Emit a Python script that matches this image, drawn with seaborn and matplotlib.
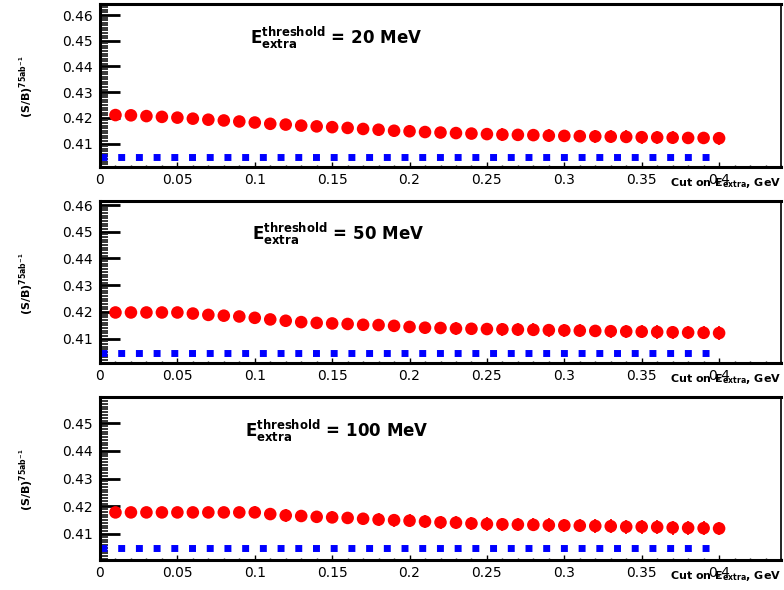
import matplotlib
matplotlib.use("Agg")
import matplotlib.pyplot as plt
from matplotlib.ticker import MultipleLocator, FuncFormatter
import seaborn as sns
import pandas as pd

# Cut on E_extra (GeV)
cuts = [0.01, 0.02, 0.03, 0.04, 0.05, 0.06, 0.07, 0.08, 0.09, 0.10,
        0.11, 0.12, 0.13, 0.14, 0.15, 0.16, 0.17, 0.18, 0.19, 0.20,
        0.21, 0.22, 0.23, 0.24, 0.25, 0.26, 0.27, 0.28, 0.29, 0.30,
        0.31, 0.32, 0.33, 0.34, 0.35, 0.36, 0.37, 0.38, 0.39, 0.40]

# (S/B) at 75 ab^-1 for each E_extra threshold
sb_20mev = [0.4211, 0.4210, 0.4207, 0.4204, 0.4201, 0.4197, 0.4193, 0.4190, 0.4186, 0.4182,
            0.4177, 0.4174, 0.4170, 0.4167, 0.4164, 0.4161, 0.4157, 0.4154, 0.4150, 0.4148,
            0.4145, 0.4143, 0.4141, 0.4139, 0.4137, 0.4135, 0.4134, 0.4133, 0.4131, 0.4130,
            0.4129, 0.4128, 0.4127, 0.4126, 0.4125, 0.4124, 0.4123, 0.4122, 0.4122, 0.4121]
sb_50mev = [0.4198, 0.4198, 0.4198, 0.4198, 0.4198, 0.4194, 0.4189, 0.4186, 0.4183, 0.4178,
            0.4172, 0.4167, 0.4162, 0.4159, 0.4157, 0.4155, 0.4152, 0.4151, 0.4148, 0.4144,
            0.4141, 0.4140, 0.4138, 0.4137, 0.4136, 0.4135, 0.4134, 0.4133, 0.4132, 0.4131,
            0.4130, 0.4129, 0.4128, 0.4127, 0.4126, 0.4125, 0.4124, 0.4123, 0.4122, 0.4121]
sb_100mev = [0.4178, 0.4178, 0.4178, 0.4178, 0.4178, 0.4178, 0.4178, 0.4178, 0.4178, 0.4178,
             0.4172, 0.4167, 0.4165, 0.4162, 0.4160, 0.4158, 0.4155, 0.4152, 0.4150, 0.4148,
             0.4145, 0.4142, 0.4141, 0.4138, 0.4136, 0.4135, 0.4134, 0.4133, 0.4132, 0.4131,
             0.4130, 0.4129, 0.4128, 0.4126, 0.4126, 0.4125, 0.4123, 0.4122, 0.4121, 0.4120]
sb_err = [0.0021, 0.0021, 0.0021, 0.0021, 0.0021, 0.0021, 0.0021, 0.0021, 0.0021, 0.0022,
          0.0022, 0.0022, 0.0022, 0.0022, 0.0022, 0.0022, 0.0022, 0.0023, 0.0023, 0.0023,
          0.0023, 0.0023, 0.0023, 0.0023, 0.0024, 0.0024, 0.0024, 0.0024, 0.0024, 0.0024,
          0.0024, 0.0024, 0.0025, 0.0025, 0.0025, 0.0025, 0.0025, 0.0025, 0.0025, 0.0025]

# Reference level (dashed blue) and its x extent
baseline_x = [0.0, 0.40]
baseline_sb = [0.4046, 0.4048, 0.4049]

thresholds = ["20", "50", "100"]
series = [sb_20mev, sb_50mev, sb_100mev]
ylims = [(0.4009, 0.4643), (0.4009, 0.4615), (0.4006, 0.4595)]

sns.set_theme(style="white")
plt.rcParams["font.family"] = ["DejaVu Sans"]
plt.rcParams["mathtext.fontset"] = "dejavusans"
plt.rcParams["text.color"] = "black"
plt.rcParams["axes.labelcolor"] = "black"

fig = plt.figure(figsize=(7.84, 5.90), dpi=100)
W, H = 784.0, 590.0
panel_px = [(4, 167), (201, 363), (397, 560)]
title_x = [0.220, 0.223, 0.213]

fmt = FuncFormatter(lambda v, p: "%g" % round(v, 4))

for i in range(3):
    top, bot = panel_px[i]
    ax = fig.add_axes([100 / W, 1 - bot / H, 681 / W, (bot - top) / H])
    ax.set_facecolor("white")

    df = pd.DataFrame({"cut": cuts, "sb": series[i], "err": sb_err})
    ax.errorbar(df["cut"], df["sb"], yerr=df["err"], fmt="none",
                ecolor="#ff0000", elinewidth=1.3, capsize=0, zorder=2)
    sns.scatterplot(data=df, x="cut", y="sb", color="#ff0000", s=82,
                    marker="o", edgecolor="none", linewidth=0, ax=ax, zorder=3)

    base = pd.DataFrame({"cut": baseline_x, "sb": [baseline_sb[i]] * 2})
    sns.lineplot(data=base, x="cut", y="sb", color="#0000ff", linewidth=5.0,
                 linestyle=(0, (1.0, 1.55)), ax=ax, zorder=2)

    ax.set_xlim(0, 0.44)
    ax.set_ylim(*ylims[i])
    ax.set_xlabel("")
    ax.set_ylabel("")

    ax.xaxis.set_major_locator(MultipleLocator(0.05))
    ax.xaxis.set_minor_locator(MultipleLocator(0.01))
    ax.yaxis.set_major_locator(MultipleLocator(0.01))
    ax.yaxis.set_minor_locator(MultipleLocator(0.001))
    ax.xaxis.set_major_formatter(fmt)
    ax.yaxis.set_major_formatter(fmt)

    ax.tick_params(axis="y", which="major", direction="in", length=14.4, width=2.0,
                   left=True, right=False, labelsize=10, pad=5, colors="black")
    ax.tick_params(axis="y", which="minor", direction="in", length=5.8, width=1.3,
                   left=True, right=False)
    ax.tick_params(axis="x", which="major", direction="in", length=3.6, width=1.0,
                   bottom=True, top=False, labelsize=10, pad=4, colors="black")
    ax.tick_params(axis="x", which="minor", direction="in", length=1.8, width=1.0,
                   bottom=True, top=False)

    for side in ["left", "bottom", "top"]:
        ax.spines[side].set_linewidth(2.2)
        ax.spines[side].set_color("black")
    ax.spines["right"].set_linewidth(1.2)
    ax.spines["right"].set_color("black")

    ax.text(title_x[i], 0.758,
            r"$\mathbf{E}_{\mathbf{extra}}^{\mathbf{threshold}}$ = " + thresholds[i] + " MeV",
            transform=ax.transAxes, ha="left", va="baseline",
            fontsize=12, fontweight="bold")

    ax.text(-0.108, 0.49, r"(S/B)$^{\mathbf{75ab^{-1}}}$", transform=ax.transAxes,
            rotation=90, ha="center", va="center", fontsize=8, fontweight="bold")

    ax.text(1.0, -0.118, r"Cut on $\mathbf{E_{extra}}$, GeV", transform=ax.transAxes,
            ha="right", va="baseline", fontsize=8, fontweight="bold")

fig.savefig("out.png", dpi=100)
